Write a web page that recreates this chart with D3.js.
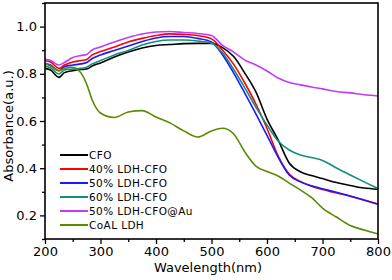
<!DOCTYPE html>
<html lang="en">
<head>
    <meta charset="UTF-8">
    <title>Absorbance</title>
    <style>
        * { margin:0; border:0; box-sizing:border-box; }
        body { background:#fff; }
        #chart { width:392px; height:280px; }
        text { font-family:"DejaVu Sans", sans-serif; fill:#000; }
    </style>
    <script src="https://unpkg.com/d3@7.6.1/dist/d3.min.js"></script>
    <script>
        const wavelength=[200,210,225,235,250,265,275,285,300,325,350,375,400,425,450,475,500,520,540,560,580,600,620,640,660,680,700,725,750,775,800];
        const cfo=[0.823,0.816,0.785,0.805,0.813,0.818,0.820,0.833,0.846,0.871,0.892,0.909,0.920,0.924,0.928,0.929,0.929,0.911,0.873,0.803,0.723,0.608,0.520,0.422,0.385,0.369,0.356,0.339,0.327,0.316,0.311];
        const ldh40=[0.855,0.850,0.823,0.837,0.850,0.856,0.861,0.880,0.894,0.914,0.935,0.950,0.962,0.969,0.967,0.962,0.948,0.900,0.840,0.761,0.672,0.568,0.452,0.375,0.344,0.324,0.310,0.295,0.281,0.264,0.248];
        const ldh50=[0.844,0.837,0.813,0.830,0.837,0.842,0.848,0.865,0.880,0.899,0.918,0.937,0.952,0.958,0.958,0.950,0.935,0.880,0.803,0.718,0.630,0.539,0.447,0.371,0.342,0.326,0.313,0.298,0.282,0.265,0.247];
        const ldh60=[0.833,0.825,0.799,0.816,0.820,0.823,0.828,0.842,0.856,0.880,0.899,0.922,0.937,0.943,0.943,0.939,0.930,0.888,0.818,0.740,0.659,0.583,0.515,0.477,0.456,0.445,0.433,0.401,0.371,0.342,0.314];
        const ldhAu=[0.861,0.856,0.837,0.848,0.869,0.878,0.882,0.901,0.914,0.935,0.954,0.969,0.977,0.979,0.975,0.971,0.962,0.920,0.892,0.858,0.837,0.812,0.782,0.763,0.753,0.744,0.736,0.725,0.719,0.711,0.706];
        const coal=[0.845,0.833,0.813,0.822,0.828,0.803,0.757,0.689,0.634,0.615,0.638,0.644,0.617,0.592,0.558,0.532,0.558,0.569,0.545,0.469,0.409,0.386,0.367,0.337,0.308,0.276,0.231,0.193,0.157,0.138,0.121];
        const names=["CFO","40% LDH-CFO","50% LDH-CFO","60% LDH-CFO","50% LDH-CFO@Au","CoAL LDH"];
        const colors=["#000000","#ff0000","#1a1aff","#10907a","#c03cf5","#5a8a00"];
        const xTicks=[200,300,400,500,600,700,800];
        const yTicks=[0.2,0.4,0.6,0.8,1.0];
    </script>
</head>
<body>
    <div id="chart"></div>
    <script>
        const series=[cfo,ldh40,ldh50,ldh60,ldhAu,coal];
        const width=392, height=280;
        const marginTop=3, marginRight=14, marginBottom=41, marginLeft=45;

        const xScale=d3.scaleLinear([200,800],[marginLeft,width-marginRight]);
        const yScale=d3.scaleLinear([0.1,1.1],[height-marginBottom,marginTop]);

        const svg=d3.select("#chart").append("svg")
            .attr("width",width)
            .attr("height",height);

        // minor ticks
        svg.append("g")
            .attr("transform",`translate(0,${height-marginBottom})`)
            .call(d3.axisBottom(xScale).tickValues(d3.range(250,800,100)).tickSize(3).tickFormat(""))
            .call(g=>g.select(".domain").remove());
        svg.append("g")
            .attr("transform",`translate(${marginLeft},0)`)
            .call(d3.axisLeft(yScale).tickValues(d3.range(0.1,1.15,0.2)).tickSize(3).tickFormat(""))
            .call(g=>g.select(".domain").remove());

        // major ticks
        svg.append("g")
            .attr("transform",`translate(0,${height-marginBottom})`)
            .call(d3.axisBottom(xScale).tickValues(xTicks).tickSize(5).tickPadding(3).tickFormat(d3.format("d")))
            .call(g=>g.select(".domain").remove())
            .call(g=>g.selectAll("text").attr("font-size",13).attr("font-family","DejaVu Sans"));
        svg.append("g")
            .attr("transform",`translate(${marginLeft},0)`)
            .call(d3.axisLeft(yScale).tickValues(yTicks).tickSize(5).tickPadding(3).tickFormat(d3.format(".1f")))
            .call(g=>g.select(".domain").remove())
            .call(g=>g.selectAll("text").attr("font-size",13).attr("font-family","DejaVu Sans"));
        svg.selectAll(".tick line").attr("stroke","#000").attr("stroke-width",1.3);

        const line=d3.line()
            .x((d,i)=>xScale(wavelength[i]))
            .y(d=>yScale(d))
            .curve(d3.curveMonotoneX);

        svg.append("g")
            .selectAll("path")
            .data(series)
            .join("path")
              .attr("fill","none")
              .attr("stroke",(d,i)=>colors[i])
              .attr("stroke-width",1.6)
              .attr("d",line);

        svg.append("rect")
            .attr("x",marginLeft)
            .attr("y",marginTop)
            .attr("width",width-marginLeft-marginRight)
            .attr("height",height-marginTop-marginBottom)
            .attr("fill","none")
            .attr("stroke","#000")
            .attr("stroke-width",1.6);

        const legend=svg.append("g")
            .selectAll("g")
            .data(names)
            .join("g")
              .attr("transform",(d,i)=>`translate(60,${155+i*14})`);
        legend.append("line")
            .attr("x1",0).attr("x2",28)
            .attr("stroke",(d,i)=>colors[i])
            .attr("stroke-width",2);
        legend.append("text")
            .attr("x",29)
            .attr("dy","0.35em")
            .attr("font-size",10.5)
            .attr("letter-spacing",0.4)
            .text(d=>d);

        svg.append("text")
            .attr("x",208)
            .attr("y",272)
            .attr("text-anchor","middle")
            .attr("font-size",13)
            .text("Wavelength(nm)");
        svg.append("text")
            .attr("transform",`translate(13,126) rotate(-90)`)
            .attr("text-anchor","middle")
            .attr("font-size",13)
            .text("Absorbance(a.u.)");
    </script>
</body>
</html>
